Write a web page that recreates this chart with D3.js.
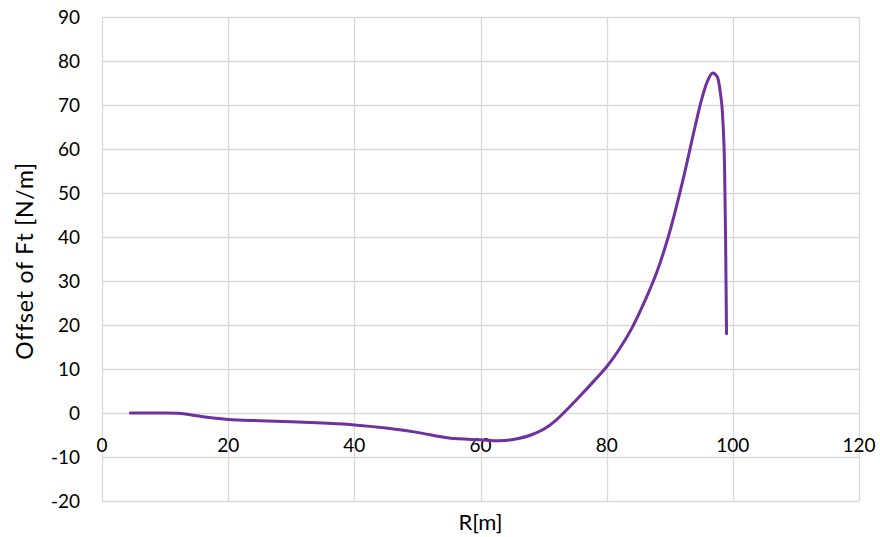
<!DOCTYPE html>
<html>
<head>
<meta charset="utf-8">
<script src="https://cdn.jsdelivr.net/npm/d3@7"></script>
<style>
    body { margin: 0; background: #fff; }
    text { font-family: Lato, "Open Sans", sans-serif; fill: #000; }
</style>
</head>
<body>
<svg id="chart" width="880" height="537"></svg>
<script>
// Values
var radius = [4.5, 8, 10, 12, 14, 16, 18, 20, 25, 30, 35, 40, 45, 50, 55, 60, 63, 66, 68, 70, 72, 74, 76, 78, 80, 82, 84, 86, 88, 90, 92, 94, 95, 96, 96.8, 97.5, 98, 98.4, 98.7, 98.85, 99];
var offsetFt = [0, 0, 0, -0.05, -0.4, -0.85, -1.2, -1.45, -1.75, -2.0, -2.3, -2.7, -3.4, -4.4, -5.7, -6.1, -6.3, -5.8, -5.0, -3.7, -1.6, 1.2, 4.2, 7.3, 10.5, 14.5, 19.3, 25.3, 32.2, 41.2, 52.4, 65, 71, 75.5, 77.3, 76.5, 73, 67, 55, 40, 18];
var xTicks = [0, 20, 40, 60, 80, 100, 120];
var yTicks = [-20, -10, 0, 10, 20, 30, 40, 50, 60, 70, 80, 90];

var svg = d3.select("#chart");
var margin = {left: 102, right: 21, top: 17, bottom: 36};
var width = 880 - margin.left - margin.right,
    height = 537 - margin.top - margin.bottom;

var x = d3.scaleLinear().domain([0, 120]).range([0, width]);
var y = d3.scaleLinear().domain([-20, 90]).range([height, 0]);

var g = svg.append("g").attr("transform", "translate(" + margin.left + "," + margin.top + ")");

// Grid lines
g.selectAll(".hgrid").data(yTicks).enter().append("line")
    .attr("x1", 0).attr("x2", width)
    .attr("y1", function(d) { return Math.round(y(d)) + 0.5; })
    .attr("y2", function(d) { return Math.round(y(d)) + 0.5; })
    .attr("stroke", "#d9d9d9").attr("stroke-width", 1.3);

g.selectAll(".vgrid").data(xTicks).enter().append("line")
    .attr("y1", 0).attr("y2", height)
    .attr("x1", function(d) { return Math.round(x(d)) + 0.5; })
    .attr("x2", function(d) { return Math.round(x(d)) + 0.5; })
    .attr("stroke", "#d9d9d9").attr("stroke-width", 1.3);

// Y tick labels
g.selectAll(".ylab").data(yTicks).enter().append("text")
    .attr("x", -22)
    .attr("y", function(d) { return y(d); })
    .attr("dy", "0.35em")
    .attr("text-anchor", "end")
    .style("font-size", "19px")
    .text(function(d) { return d; });

// X tick labels sit under the zero line
g.selectAll(".xlab").data(xTicks).enter().append("text")
    .attr("x", function(d) { return x(d); })
    .attr("y", y(0) + 39)
    .attr("text-anchor", "middle")
    .style("font-size", "19px")
    .text(function(d) { return d; });

// The curve
var line = d3.line()
    .x(function(d) { return x(d[0]); })
    .y(function(d) { return y(d[1]); })
    .curve(d3.curveMonotoneX);

g.append("path")
    .datum(d3.zip(radius, offsetFt))
    .attr("d", line)
    .attr("fill", "none")
    .attr("stroke", "#7030a0")
    .attr("stroke-width", 3)
    .attr("stroke-linejoin", "round")
    .attr("stroke-linecap", "round");

// Axis titles
svg.append("text")
    .attr("transform", "translate(33," + (margin.top + height / 2 + 2) + ") rotate(-90)")
    .attr("text-anchor", "middle")
    .style("font-size", "23px")
    .style("letter-spacing", "0.8px")
    .text("Offset of Ft [N/m]");

svg.append("text")
    .attr("x", margin.left + width / 2)
    .attr("y", 530)
    .attr("text-anchor", "middle")
    .style("font-size", "22px")
    .text("R[m]");
</script>
</body>
</html>
